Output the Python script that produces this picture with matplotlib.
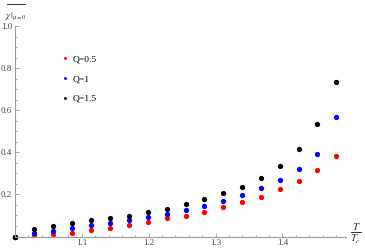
import matplotlib
matplotlib.use("Agg")
import matplotlib.pyplot as plt
from matplotlib.lines import Line2D
from matplotlib.ticker import MultipleLocator, FixedLocator

# T/Tc values
t_ratio = [1.0, 1.029, 1.057, 1.086, 1.114, 1.142, 1.171, 1.199, 1.227, 1.255,
           1.283, 1.311, 1.339, 1.368, 1.396, 1.424, 1.452, 1.480]

chi_q05 = [0.0, 0.005, 0.012, 0.017, 0.029, 0.040, 0.053, 0.067, 0.088, 0.098,
           0.117, 0.139, 0.163, 0.190, 0.228, 0.266, 0.317, 0.383]
chi_q1 = [0.0, 0.017, 0.027, 0.040, 0.053, 0.064, 0.077, 0.091, 0.107, 0.126,
          0.146, 0.170, 0.197, 0.229, 0.270, 0.322, 0.391, 0.570]
chi_q15 = [0.0, 0.034, 0.051, 0.062, 0.077, 0.087, 0.099, 0.115, 0.133, 0.154,
           0.176, 0.205, 0.237, 0.279, 0.336, 0.415, 0.534, 0.736]

series = [("Q=0.5", chi_q05, "#ff0000"),
          ("Q=1", chi_q1, "#0000ff"),
          ("Q=1.5", chi_q15, "#000000")]

plt.rcParams['font.family'] = ['Liberation Serif', 'DejaVu Serif']
plt.rcParams['mathtext.fontset'] = 'stix'

fig = plt.figure(figsize=(3.65, 2.5), dpi=100)
ax = fig.add_axes([0.041, 0.054, 0.907, 0.842])

for label, vals, col in series:
    ax.plot(t_ratio, vals, 'o', color=col, ms=3.8, mec='none', label=label,
            clip_on=False)

ax.set_xlim(1.0, 1.495)
ax.set_ylim(0, 1.0)

axis_gray = '#9a9a9a'
for side in ['top', 'right']:
    ax.spines[side].set_visible(False)
for side in ['left', 'bottom']:
    ax.spines[side].set_color(axis_gray)
    ax.spines[side].set_linewidth(0.8)

ax.xaxis.set_major_locator(FixedLocator([1.1, 1.2, 1.3, 1.4]))
ax.xaxis.set_minor_locator(MultipleLocator(0.02))
ax.yaxis.set_major_locator(FixedLocator([0.2, 0.4, 0.6, 0.8, 1.0]))
ax.yaxis.set_minor_locator(MultipleLocator(0.05))
ax.tick_params(which='both', direction='in', color=axis_gray, width=0.6,
               labelsize=6.5, labelcolor='#444444', pad=2)
ax.tick_params(which='major', length=3)
ax.tick_params(which='minor', length=1.5)

# axis labels, Mathematica-style fractions
fig.text(0.044, 0.934, r'$\chi|_{\mu=0}$', ha='center', va='center',
         fontsize=6.5, color='#333333')
fig.add_artist(Line2D([0.019, 0.069], [0.985, 0.985], color='#333333', lw=0.7))
fig.text(0.975, 0.066, r'$\frac{T}{T_c}$', ha='center', va='center',
         fontsize=11, color='#333333')

ax.legend(loc='upper left', bbox_to_anchor=(0.11, 0.905), frameon=False,
          fontsize=6.8, handletextpad=0.4, labelspacing=1.2, handlelength=1,
          markerscale=0.55)

fig.savefig('out.png', dpi=100)
